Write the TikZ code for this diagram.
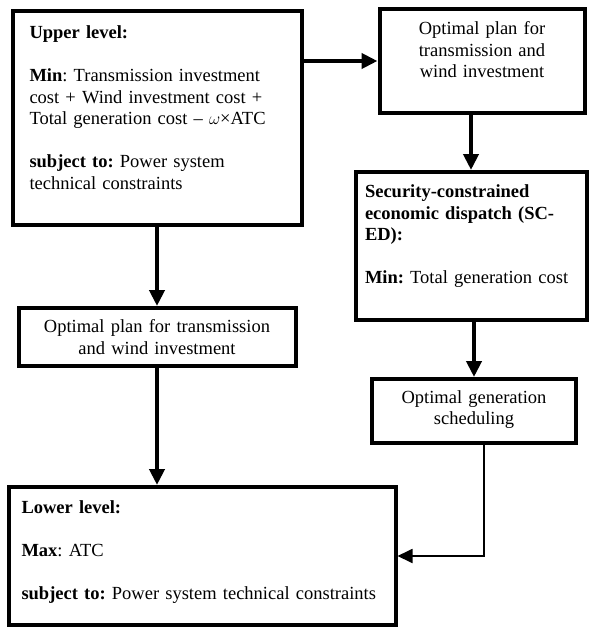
\documentclass[tikz,border=0pt]{standalone}
\usepackage{fontspec}
\setmainfont{Liberation Serif}
\usepackage{tikz}
\usetikzlibrary{arrows.meta, positioning}
\frenchspacing
\newcommand{\padbot}[1]{\par\nointerlineskip\kern#1\hbox{}}
\tikzstyle{box}      = [rectangle, draw=black, line width=4pt, fill=white, inner sep=0pt,
                        font=\fontsize{18.5}{21.5}\selectfont]
\tikzstyle{boxleft}  = [box, align=left]
\tikzstyle{boxmid}   = [box, align=center]
\tikzstyle{arrow}    = [line width=4pt, -{Triangle[length=16pt,width=15pt]}]
\tikzstyle{fbarrow}  = [line width=1.8pt, -{Triangle[length=15pt,width=14pt]}]

\begin{document}
\begin{tikzpicture}[x=1pt, y=-1pt]
  \useasboundingbox (0,0) rectangle (590,629);
  \node (upper) [boxleft, text width=255pt, minimum width=289pt, minimum height=214pt] at (157,118)
    {\textbf{Upper level:}\\[21.5pt]\textbf{Min}: Transmission investment\\cost + Wind investment cost +\\Total generation cost -- $\omega$×ATC\\[21.5pt]\textbf{subject to:} Power system\\technical constraints\padbot{21pt}};
  \node (plan1) [boxmid, text width=190pt, minimum width=205pt, minimum height=104pt] at (482,61)
    {Optimal plan for\\transmission and\\wind investment\padbot{22pt}};
  \node (sced) [boxleft, text width=212pt, minimum width=231pt, minimum height=148pt] at (471,246)
    {\textbf{Security-constrained}\\\textbf{economic dispatch (SC-}\\\textbf{ED):}\\[21.5pt]\textbf{Min:} Total generation cost\padbot{19pt}};
  \node (plan2) [boxmid, text width=270pt, minimum width=277pt, minimum height=58pt] at (157,337)
    {Optimal plan for transmission\\and wind investment};
  \node (sched) [boxmid, text width=195pt, minimum width=204pt, minimum height=64pt] at (474,411)
    {Optimal generation\\scheduling\padbot{3pt}};
  \node (lower) [boxleft, text width=361pt, minimum width=387pt, minimum height=138pt] at (202,556)
    {\textbf{Lower level:}\\[21.5pt]\textbf{Max}: ATC\\[21.5pt]\textbf{subject to:} Power system technical constraints\padbot{8pt}};
  \draw [arrow] (upper.east |- plan1.west) -- (plan1.west);
  \draw [arrow] (plan1.south -| sced.north) -- (sced.north);
  \draw [arrow] (sched.north |- sced.south) -- (sched.north);
  \draw [arrow] (upper.south) -- (plan2.north);
  \draw [arrow] (plan2.south) -- (plan2.south |- lower.north);
  \draw [fbarrow] ([xshift=10pt]sched.south) |- (lower.east);
\end{tikzpicture}
\end{document}
